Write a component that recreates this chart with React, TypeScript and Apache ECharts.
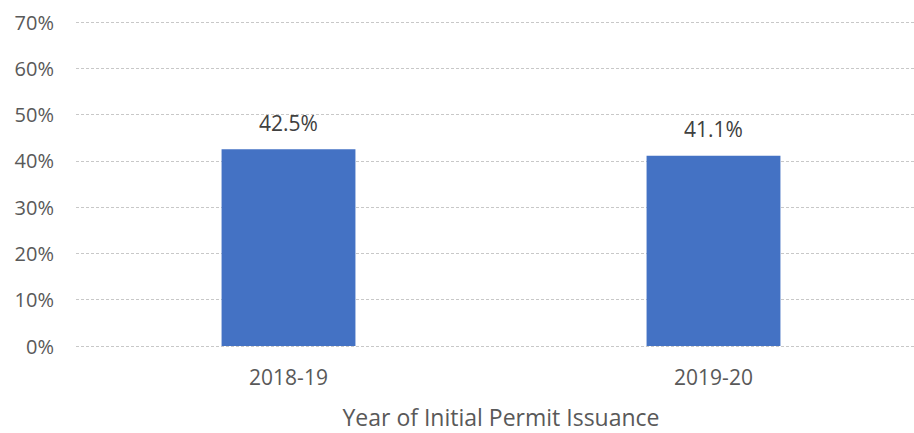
import React, { useEffect, useRef } from "react";
import * as echarts from "echarts";

const categories = ["2018-19", "2019-20"];
const values = [42.5, 41.1];
const yTicks = [0, 10, 20, 30, 40, 50, 60, 70];
const xAxisTitle = "Year of Initial Permit Issuance";

export default function App() {
  const ref = useRef<HTMLDivElement>(null);
  useEffect(() => {
    document.body.style.margin = "0";
    const chart = echarts.init(ref.current!, null, { renderer: "svg" });
    chart.setOption({
      animation: false,
      textStyle: { fontFamily: "Open Sans, Noto Sans, sans-serif" },
      grid: { left: 76, top: 22, right: 0, bottom: 86 },
      xAxis: {
        type: "category",
        data: categories,
        axisLine: { show: false },
        axisTick: { show: false },
        axisLabel: { color: "#595959", fontSize: 21, margin: 20 },
        name: xAxisTitle,
        nameLocation: "middle",
        nameGap: 59,
        nameTextStyle: { color: "#595959", fontSize: 23 },
      },
      yAxis: {
        type: "value",
        min: yTicks[0],
        max: yTicks[yTicks.length - 1],
        interval: 10,
        axisLine: { show: false },
        axisTick: { show: false },
        axisLabel: { color: "#595959", fontSize: 20, margin: 22, formatter: (v: number) => v + "%" },
        splitLine: { lineStyle: { color: "#c8c8c8", type: [3, 2], width: 1 } },
      },
      series: [
        {
          type: "bar",
          data: values,
          barWidth: "31.5%",
          itemStyle: { color: "#4472C4" },
          label: {
            show: true,
            position: "top",
            distance: 16,
            color: "#404040",
            fontSize: 21,
            formatter: (p: any) => p.value.toFixed(1) + "%",
          },
        },
      ],
    });
    return () => chart.dispose();
  }, []);
  return (
    <div style={{ width: 914, height: 433, overflow: "hidden" }}>
      <div ref={ref} style={{ width: 926, height: 433 }} />
    </div>
  );
}
